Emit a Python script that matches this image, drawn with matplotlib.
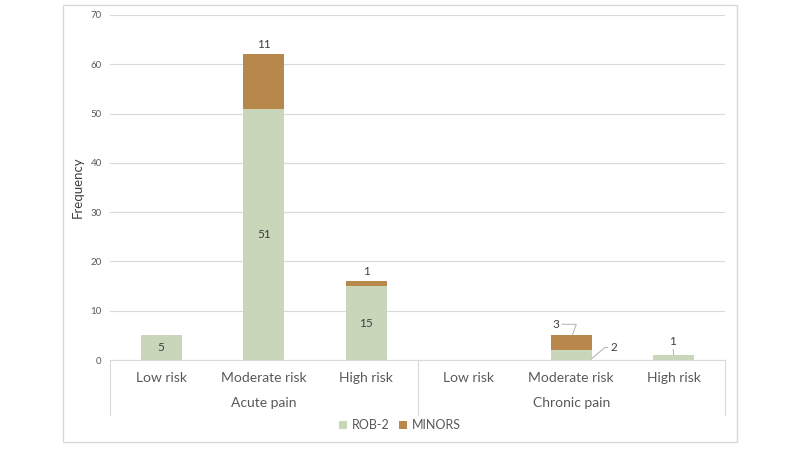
import matplotlib
matplotlib.use("Agg")
import matplotlib.pyplot as plt
from matplotlib.patches import Rectangle
from matplotlib.transforms import blended_transform_factory

plt.rcParams['font.family'] = ['Lato', 'DejaVu Sans']

categories = ["Low risk", "Moderate risk", "High risk", "Low risk", "Moderate risk", "High risk"]
groups = ["Acute pain", "Chronic pain"]
rob2 = [5, 51, 15, 0, 2, 1]
minors = [0, 11, 1, 0, 3, 0]
series_names = ["ROB-2", "MINORS"]
yticks = [0, 10, 20, 30, 40, 50, 60, 70]

c_rob = "#C9D6BA"
c_min = "#B8874C"
txt = "#404040"
grid = "#D9D9D9"

fig = plt.figure(figsize=(8, 4.5), dpi=100)
ax = fig.add_axes([110/800, 1-360/450, 615/800, 345/450])

x = list(range(len(categories)))
ax.bar(x, rob2, width=0.4, color=c_rob, label=series_names[0], zorder=3)
ax.bar(x, minors, width=0.4, bottom=rob2, color=c_min, label=series_names[1], zorder=3)

ax.set_xlim(-0.5, len(categories) - 0.5)
ax.set_ylim(0, 70)
ax.set_yticks(yticks)
ax.tick_params(axis='y', length=0, labelsize=7, labelcolor="#595959", pad=6)
ax.grid(axis='y', color=grid, linewidth=0.8, zorder=0)
for s in ["top", "right", "left"]:
    ax.spines[s].set_visible(False)
ax.spines["bottom"].set_color(grid)
ax.set_xticks(x)
ax.set_xticklabels(categories, fontsize=10, color="#595959")
ax.tick_params(axis='x', length=0, pad=9)
ax.set_ylabel("Frequency", fontsize=9.5, color=txt)
ax.yaxis.set_label_coords(-(110 - 84) / 615, 0.5)

tr = blended_transform_factory(ax.transData, ax.transAxes)
# group labels and separators
for gi, g in enumerate(groups):
    ax.text(gi * 3 + 1, -0.125, g, transform=tr, ha='center', va='center',
            fontsize=10, color="#595959")
for xb in [-0.5, 2.5, 5.5]:
    ax.plot([xb, xb], [0, -0.16], transform=tr, color=grid, linewidth=0.8,
            clip_on=False)

# data labels
lab_kw = dict(fontsize=8.5, color=txt, ha='center', va='center')
for i in [0, 1, 2]:
    ax.text(i, rob2[i] / 2, str(rob2[i]), **lab_kw)
for i in [1, 2]:
    ax.annotate(str(minors[i]), (i, rob2[i] + minors[i]), xytext=(0, 7),
                textcoords='offset points', **lab_kw)
lc = dict(arrowstyle='-', color="#A6A6A6", linewidth=0.6, shrinkA=0, shrinkB=0)
ax.annotate(str(minors[4]), (4.01, rob2[4] + minors[4]), xytext=(-12, 8),
            textcoords='offset points',
            arrowprops=dict(lc, connectionstyle="angle,angleA=0,angleB=70,rad=0"),
            **lab_kw)
ax.annotate(str(rob2[4]), (4.2, 0.3), xytext=(16, 8), textcoords='offset points',
            arrowprops=dict(lc, connectionstyle="angle,angleA=0,angleB=40,rad=0"),
            **lab_kw)
ax.annotate(str(rob2[5]), (5.0, rob2[5]), xytext=(-1, 10), textcoords='offset points',
            arrowprops=dict(lc), **lab_kw)

# legend
fig.legend(loc='center', bbox_to_anchor=(0.5, 1 - 425/450), ncol=2, frameon=False,
           fontsize=9, handlelength=0.6, handleheight=0.6, handletextpad=0.4,
           columnspacing=0.8, labelcolor="#595959")

# outer border
fig.patches.append(Rectangle((63/800, 1-442/450), (737-63)/800, (442-5)/450,
                             transform=fig.transFigure, fill=False,
                             edgecolor=grid, linewidth=1))

fig.savefig("out.png", dpi=100)
